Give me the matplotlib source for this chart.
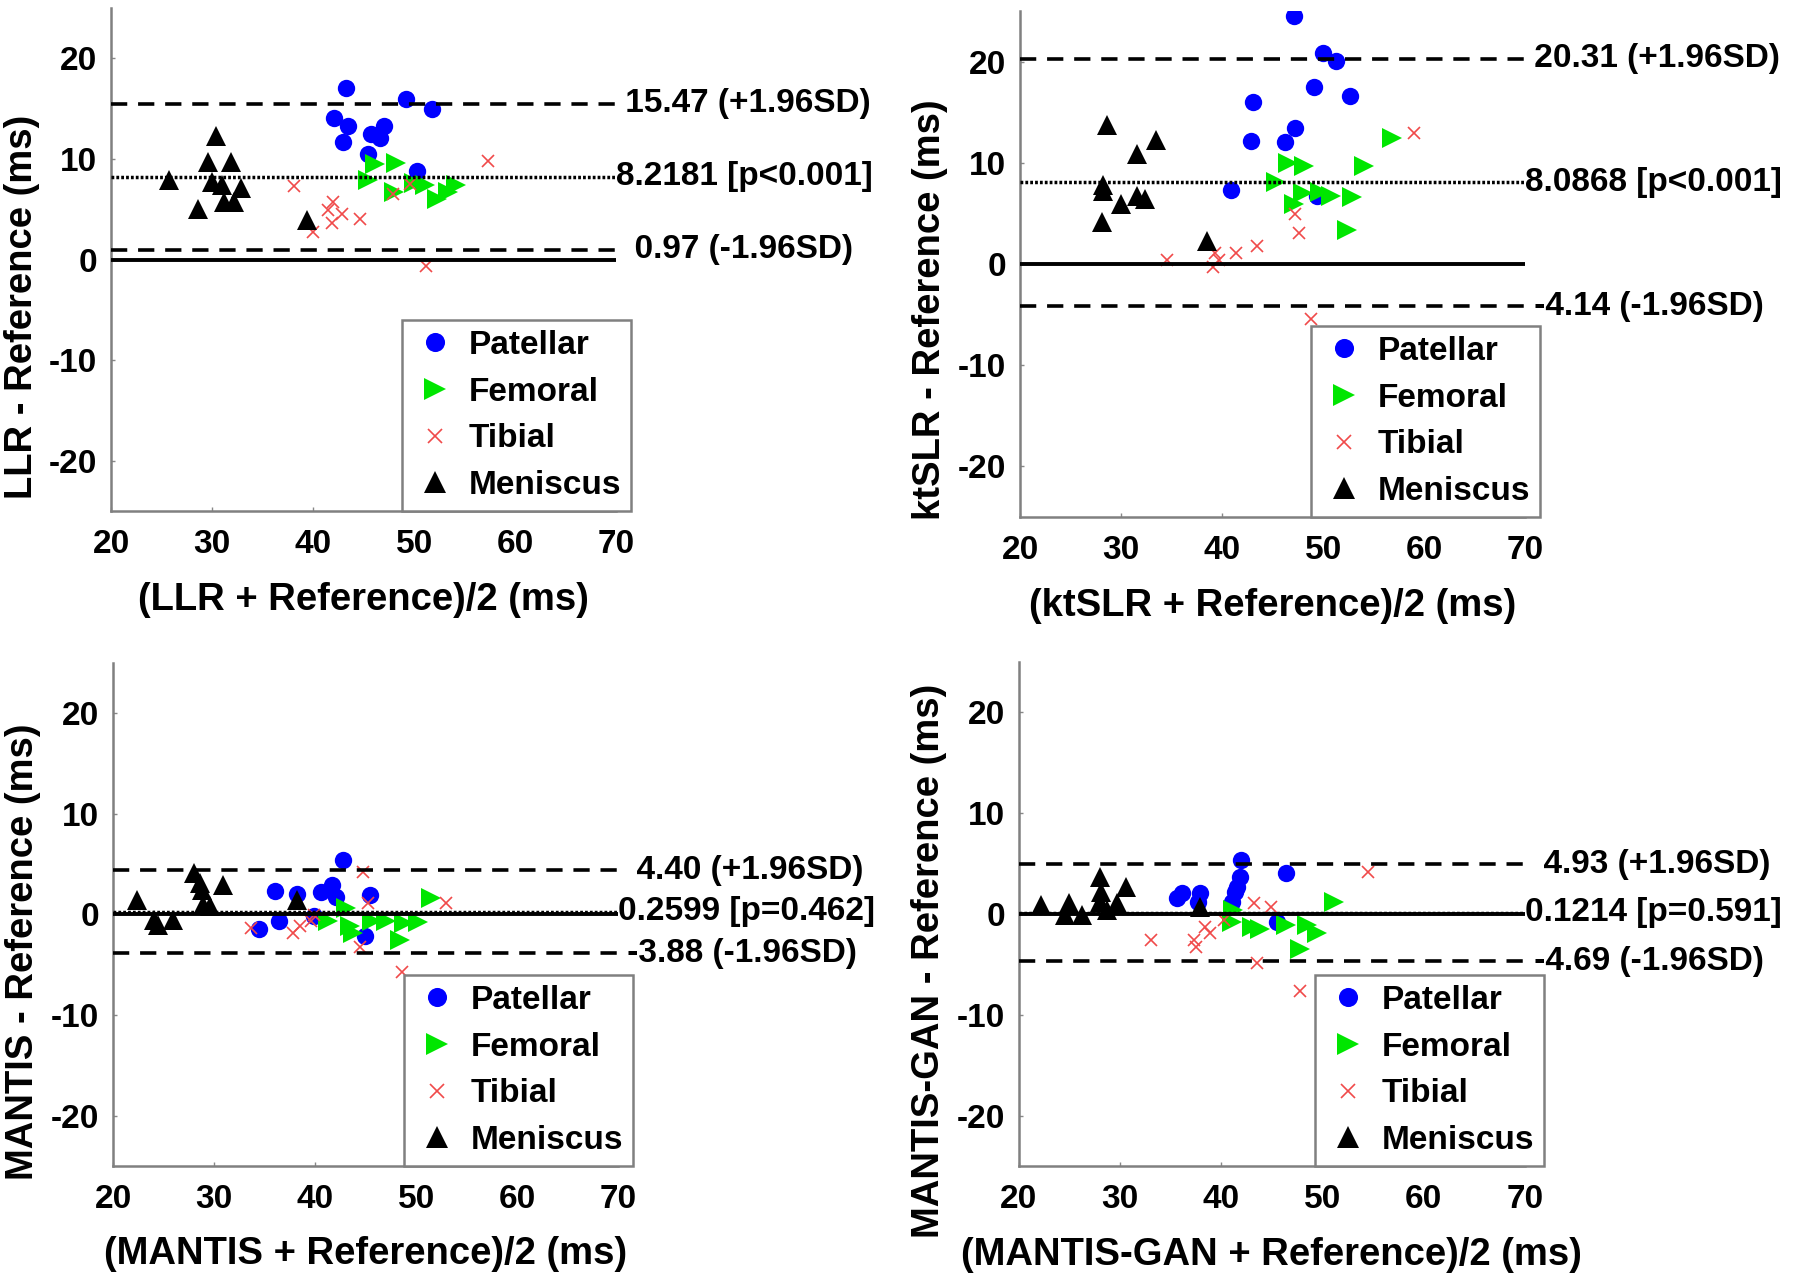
import matplotlib
matplotlib.use('Agg')
from matplotlib import pyplot as plt

plt.rcParams['font.family'] = ['Liberation Sans', 'DejaVu Sans']
plt.rcParams['font.weight'] = 'bold'
plt.rcParams['axes.labelweight'] = 'bold'
plt.rcParams['axes.unicode_minus'] = False

# categories / legend labels
classes = ['Patellar', 'Femoral', 'Tibial', 'Meniscus']
methods = ['LLR', 'ktSLR', 'MANTIS', 'MANTIS-GAN']

# ---- LLR ----
llr_pat_x = [43.3, 49.2, 51.8, 42.1, 43.5, 43.0, 47.0, 45.7, 46.6, 45.4, 50.3]
llr_pat_y = [17.1, 16.0, 15.0, 14.1, 13.3, 11.7, 13.3, 12.5, 12.1, 10.5, 8.8]
llr_fem_x = [46.1, 48.2, 45.4, 48.0, 50.0, 51.1, 52.3, 54.1, 53.4]
llr_fem_y = [9.5, 9.6, 7.9, 6.7, 7.6, 7.4, 6.0, 7.4, 6.7]
llr_tib_x = [57.3, 38.1, 42.0, 41.5, 42.9, 41.9, 44.6, 40.0, 51.2, 47.9, 49.6]
llr_tib_y = [9.8, 7.3, 5.7, 4.9, 4.5, 3.6, 4.0, 2.7, -0.6, 6.5, 7.5]
llr_men_x = [30.4, 29.6, 31.9, 25.7, 30.0, 31.0, 32.9, 28.6, 31.2, 32.2, 39.4]
llr_men_y = [12.3, 9.7, 9.7, 7.9, 7.7, 7.4, 7.1, 5.0, 5.7, 5.7, 3.9]

# ---- ktSLR ----
kt_pat_x = [47.1, 50.0, 51.3, 49.1, 52.7, 43.1, 47.2, 42.9, 46.2, 40.9, 49.4]
kt_pat_y = [24.5, 20.9, 20.1, 17.5, 16.6, 16.0, 13.5, 12.2, 12.1, 7.3, 6.7]
kt_fem_x = [56.8, 54.0, 46.5, 48.1, 45.3, 48.0, 49.7, 50.8, 52.9, 47.1, 52.4]
kt_fem_y = [12.5, 9.7, 10.0, 9.7, 8.1, 7.0, 7.1, 6.7, 6.6, 6.0, 3.4]
kt_tib_x = [59.0, 47.2, 47.6, 43.5, 41.4, 34.5, 39.3, 39.7, 39.1, 48.8]
kt_tib_y = [13.0, 5.0, 3.1, 1.8, 1.1, 0.4, 1.1, 0.4, -0.3, -5.4]
kt_men_x = [28.6, 33.5, 31.6, 28.2, 28.2, 30.0, 31.6, 32.4, 28.1, 38.5]
kt_men_y = [13.8, 12.3, 10.9, 7.8, 7.2, 6.0, 6.7, 6.4, 4.2, 2.3]

# ---- MANTIS ----
ma_pat_x = [42.8, 36.0, 38.2, 40.6, 41.7, 42.1, 45.4, 36.4, 34.4, 44.9, 39.9]
ma_pat_y = [5.4, 2.3, 2.0, 2.2, 2.9, 1.7, 1.9, -0.7, -1.5, -2.2, -0.2]
ma_fem_x = [51.5, 43.1, 41.3, 43.5, 45.6, 47.0, 48.8, 50.2, 48.4, 43.8]
ma_fem_y = [1.6, 0.6, -0.7, -1.2, -0.7, -0.7, -0.9, -0.8, -2.6, -1.9]
ma_tib_x = [44.7, 53.0, 33.7, 37.8, 38.5, 39.6, 39.9, 45.2, 44.4, 48.6]
ma_tib_y = [4.2, 1.1, -1.4, -1.9, -1.2, -0.7, -0.1, 1.1, -3.2, -5.7]
ma_men_x = [28.0, 28.6, 28.8, 30.9, 22.4, 28.9, 29.6, 38.2, 24.1, 24.5, 25.9]
ma_men_y = [4.1, 3.1, 2.4, 2.9, 1.4, 0.9, 0.8, 1.4, -0.6, -1.1, -0.6]

# ---- MANTIS-GAN ----
mg_pat_x = [42.0, 41.9, 46.4, 41.4, 41.1, 35.6, 36.1, 37.9, 37.7, 45.5, 41.6]
mg_pat_y = [5.4, 3.7, 4.1, 2.2, 1.2, 1.6, 2.1, 2.1, 1.2, -0.8, 2.7]
mg_fem_x = [51.1, 41.1, 43.0, 43.8, 46.4, 48.5, 49.5, 47.8, 41.2]
mg_fem_y = [1.2, -0.8, -1.3, -1.5, -1.1, -1.1, -1.9, -3.5, 0.4]
mg_tib_x = [54.5, 43.2, 44.9, 33.1, 37.3, 37.5, 38.9, 38.4, 40.3, 43.5, 47.8]
mg_tib_y = [4.2, 1.1, 0.7, -2.6, -2.6, -3.3, -1.9, -1.3, -0.6, -4.9, -7.6]
mg_men_x = [28.0, 30.6, 28.1, 28.0, 29.7, 22.2, 25.0, 24.6, 26.2, 37.9, 28.7]
mg_men_y = [3.7, 2.7, 2.2, 1.2, 1.1, 0.9, 1.1, -0.1, -0.1, 0.7, 0.4]

# Bland-Altman stats
upper = [15.47, 20.31, 4.40, 4.93]
bias = [8.2181, 8.0868, 0.2599, 0.1214]
lower = [0.97, -4.14, -3.88, -4.69]
pvals = ['p<0.001', 'p<0.001', 'p=0.462', 'p=0.591']

xticks = [20, 30, 40, 50, 60, 70]
yticks = [-20, -10, 0, 10, 20]

data = [
    [(llr_pat_x, llr_pat_y), (llr_fem_x, llr_fem_y), (llr_tib_x, llr_tib_y), (llr_men_x, llr_men_y)],
    [(kt_pat_x, kt_pat_y), (kt_fem_x, kt_fem_y), (kt_tib_x, kt_tib_y), (kt_men_x, kt_men_y)],
    [(ma_pat_x, ma_pat_y), (ma_fem_x, ma_fem_y), (ma_tib_x, ma_tib_y), (ma_men_x, ma_men_y)],
    [(mg_pat_x, mg_pat_y), (mg_fem_x, mg_fem_y), (mg_tib_x, mg_tib_y), (mg_men_x, mg_men_y)],
]

styles = [
    dict(marker='o', color='#0000ff', ms=12.5, mew=0),
    dict(marker='>', color='#00e600', ms=14, mew=0),
    dict(marker='x', color='#f04a4a', ms=9, mew=1.2),
    dict(marker='^', color='black', ms=14, mew=0),
]

axpos = [[0.0617, 0.601, 0.2806, 0.3927],
         [0.5667, 0.5964, 0.2806, 0.3947],
         [0.0628, 0.0898, 0.2806, 0.3929],
         [0.566, 0.0898, 0.2811, 0.3934]]
leg_x = [0.576, 0.576, 0.576, 0.585]
ylab_pos = [(-0.176, 0.406), (-0.178, 0.411), (-0.178, 0.425), (-0.178, 0.407)]

fig = plt.figure(figsize=(18, 12.81), dpi=100)

for i, m in enumerate(methods):
    ax = fig.add_axes(axpos[i])
    for (xs, ys), st, lab in zip(data[i], styles, classes):
        ax.plot(xs, ys, linestyle='none', label=lab, zorder=2, **st)

    ax.plot([20, 70], [upper[i]] * 2, color='black', lw=2.6, dashes=(4.5, 3), zorder=3)
    ax.plot([20, 70], [lower[i]] * 2, color='black', lw=2.6, dashes=(4.5, 3), zorder=3)
    ax.plot([20, 70], [bias[i]] * 2, color='black', lw=2.5, dashes=(0.8, 0.6), zorder=3)
    ax.plot([20, 70], [0, 0], color='black', lw=2.8, zorder=3)

    ax.text(70, upper[i], f'{upper[i]:6.2f} (+1.96SD)', ha='left', va='center', fontsize=24)
    ax.text(70, bias[i], f'{bias[i]:.4f} [{pvals[i]}]', ha='left', va='center', fontsize=24)
    ax.text(70, lower[i], f'{lower[i]:6.2f} (-1.96SD)', ha='left', va='center', fontsize=24)

    ax.set_xlim(20, 70)
    ax.set_ylim(-25, 25)
    ax.set_xticks(xticks)
    ax.set_yticks(yticks)
    ax.tick_params(direction='in', length=3, width=1, color='#888888', labelsize=24)
    ax.tick_params(axis='x', pad=13)
    ax.tick_params(axis='y', pad=10)
    for s in ['top', 'right']:
        ax.spines[s].set_visible(False)
    for s in ['left', 'bottom']:
        ax.spines[s].set_color('#808080')
        ax.spines[s].set_linewidth(1.8)

    ax.set_xlabel(f'({m} + Reference)/2 (ms)', fontsize=27.5, fontweight='bold')
    ax.set_ylabel(f'{m} - Reference (ms)', fontsize=27.5, fontweight='bold')
    ax.xaxis.set_label_coords(0.5, -0.14)
    ax.yaxis.label.set_verticalalignment('center')
    ax.yaxis.set_label_coords(*ylab_pos[i])

    leg = ax.legend(loc='lower left', bbox_to_anchor=(leg_x[i], 0.0), fontsize=24,
                    fancybox=False, framealpha=1, edgecolor='#808080',
                    borderpad=0.3, labelspacing=0.47, handlelength=1.4,
                    handletextpad=0.3, borderaxespad=0, numpoints=1,
                    markerscale=1.1)
    leg.get_frame().set_linewidth(1.8)
    leg.set_zorder(5)

fig.savefig('out.png', dpi=100)
